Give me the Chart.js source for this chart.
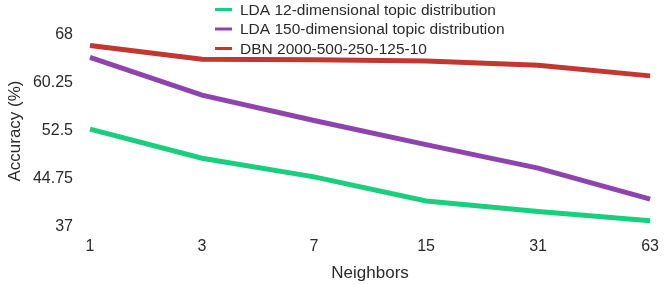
<!DOCTYPE html>
<html lang="en">
<head>
    <meta charset="UTF-8">
    <title>Accuracy vs Neighbors</title>
    <script src="https://cdn.jsdelivr.net/npm/chart.js"></script>
    <style>
        html, body { margin: 0; padding: 0; background: #fff; }
        #wrap { width: 669px; height: 285px; position: relative; }
    </style>
</head>
<body>
    <div id="wrap"><canvas id="accChart"></canvas></div>

    <script>
        // data
        const neighbors = ['1', '3', '7', '15', '31', '63'];
        const lda12 = [52.8, 48.1, 45.1, 41.2, 39.5, 38.0];
        const lda150 = [64.4, 58.3, 54.2, 50.3, 46.5, 41.5];
        const dbn = [66.3, 64.1, 64.0, 63.8, 63.1, 61.4];
        const seriesNames = [
            'LDA 12-dimensional topic distribution',
            'LDA 150-dimensional topic distribution',
            'DBN 2000-500-250-125-10'
        ];

        const FONT = '"Liberation Sans", Arial, sans-serif';
        const TEXT = '#2a2a2a';

        // legend drawn over the plot, stacked at the top
        const overlayLegend = {
            id: 'overlayLegend',
            afterDraw(chart) {
                const c = chart.ctx;
                c.save();
                c.font = '15.5px ' + FONT;
                c.textBaseline = 'middle';
                chart.data.datasets.forEach((ds, i) => {
                    const y = 9.5 + i * 19.5;
                    c.strokeStyle = ds.borderColor;
                    c.lineWidth = 3;
                    c.beginPath();
                    c.moveTo(215, y);
                    c.lineTo(232, y);
                    c.stroke();
                    c.fillStyle = TEXT;
                    c.fillText(ds.label, 240, y + 1);
                });
                c.restore();
            }
        };

        new Chart(document.getElementById('accChart'), {
            type: 'line',
            data: {
                labels: neighbors,
                datasets: [
                    { label: seriesNames[0], data: lda12, borderColor: '#19cf7e' },
                    { label: seriesNames[1], data: lda150, borderColor: '#8e44ad' },
                    { label: seriesNames[2], data: dbn, borderColor: '#c2372f' }
                ].map(d => Object.assign(d, {
                    borderWidth: 5,
                    pointRadius: 0,
                    tension: 0,
                    fill: false,
                    clip: false
                }))
            },
            options: {
                responsive: true,
                maintainAspectRatio: false,
                animation: false,
                layout: { padding: { left: 0, right: 13, top: 35, bottom: 0 } },
                plugins: {
                    legend: { display: false },
                    tooltip: { enabled: false }
                },
                scales: {
                    x: {
                        offset: false,
                        grid: { display: false, drawTicks: false },
                        border: { display: false },
                        ticks: { color: TEXT, font: { family: FONT, size: 16 }, padding: 10, maxRotation: 0 },
                        title: {
                            display: true, text: 'Neighbors', color: TEXT,
                            font: { family: FONT, size: 17 },
                            padding: { top: 0, bottom: 1 }
                        },
                        afterFit(axis) { axis.height = 58; }
                    },
                    y: {
                        min: 37,
                        max: 68,
                        grid: { display: false, drawTicks: false },
                        border: { display: false },
                        ticks: {
                            stepSize: 7.75, color: TEXT, font: { family: FONT, size: 16, lineHeight: 1.0 }, padding: 17,
                            callback: v => String(+v.toFixed(2))
                        },
                        title: {
                            display: true, text: 'Accuracy (%)', color: TEXT,
                            font: { family: FONT, size: 17 },
                            padding: { top: 5, bottom: 0 }
                        },
                        afterFit(axis) { axis.width = 90; }
                    }
                }
            },
            plugins: [overlayLegend]
        });
    </script>
</body>
</html>
